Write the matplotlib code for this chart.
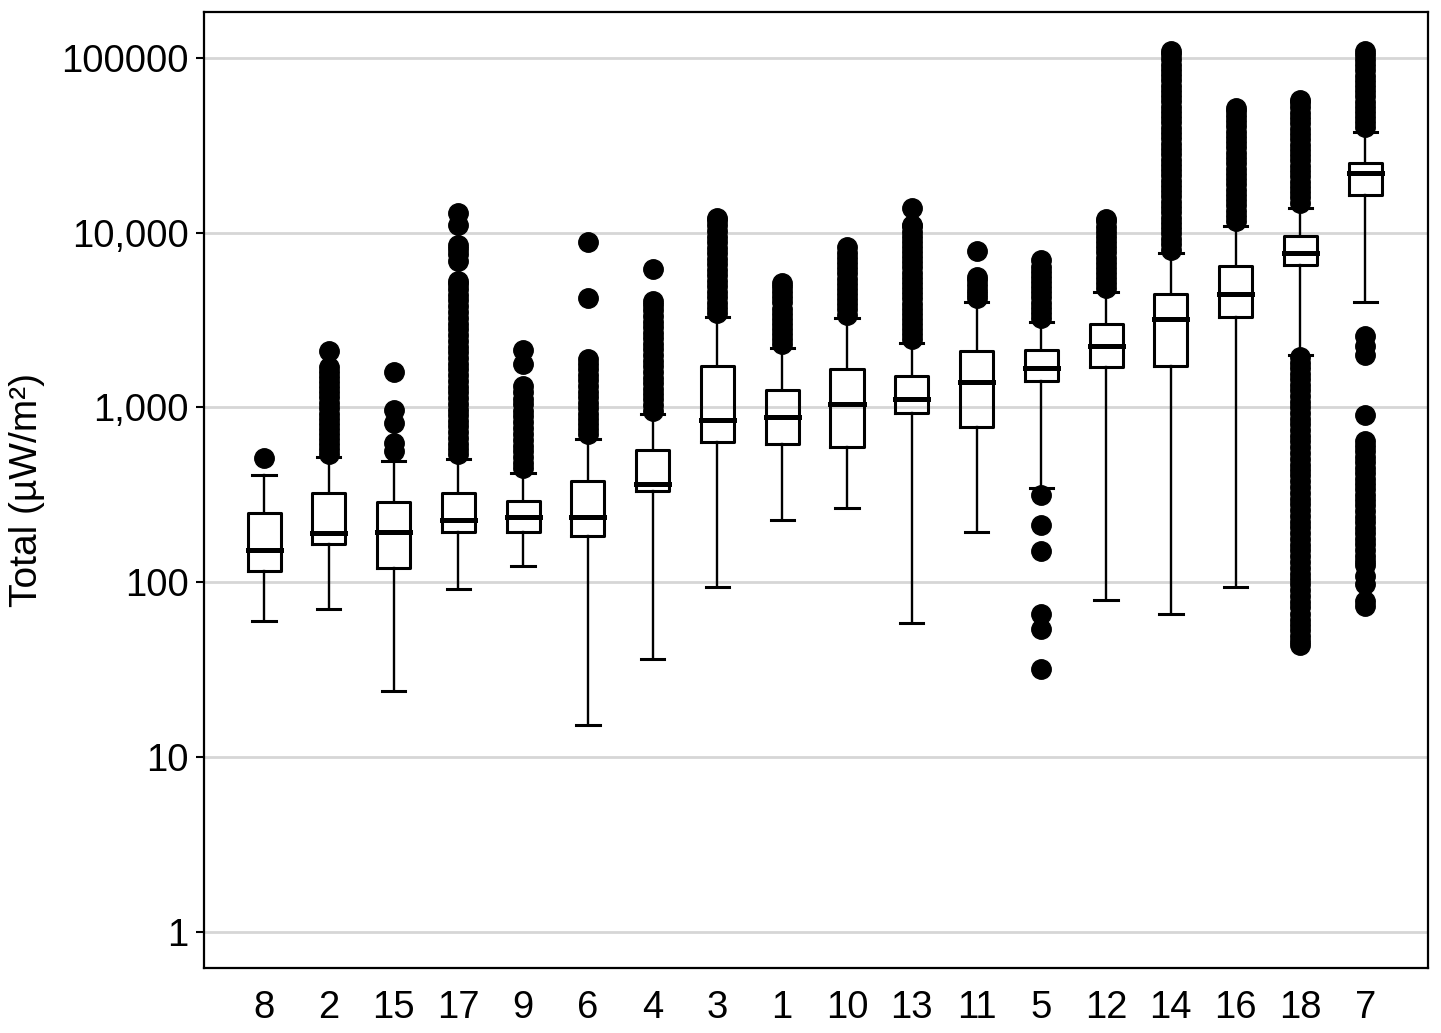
import matplotlib
matplotlib.use('Agg')
import matplotlib.pyplot as plt

# Sites, sorted as in the figure
sites = ["8", "2", "15", "17", "9", "6", "4", "3", "1", "10", "13", "11", "5", "12", "14", "16", "18", "7"]

# Box statistics (uW/m2)
medians = [153, 192, 194, 227, 237, 237, 365, 849, 884, 1049, 1120, 1400, 1686, 2250, 3214, 4467, 7660, 21970]
q1 = [116, 166, 121, 194, 194, 184, 333, 636, 619, 595, 931, 774, 1420, 1707, 1730, 3300, 6540, 16450]
q3 = [250, 324, 288, 324, 292, 380, 572, 1730, 1261, 1662, 1517, 2108, 2136, 3008, 4467, 6460, 9590, 25070]
whisLow = [60, 70, 24, 91, 124, 15.3, 36.5, 94, 227, 267, 58.6, 194, 347, 79.3, 65.9, 94, 2000, 4018]
whisHigh = [411, 521, 495, 508, 423, 661, 919, 3300, 2193, 3256, 2342, 4018, 3090, 4585, 7660, 10940, 13870, 37740]

# Outliers per site (dense columns are many overlapping points)
out8 = [515]
out2 = [540, 580, 620, 660, 700, 750, 800, 860, 920, 990, 1060, 1140, 1220, 1310, 1400, 1500, 1600, 1700, 2100]
out15 = [565, 627, 816, 969, 1600]
out17 = [540, 580, 620, 670, 720, 780, 840, 900, 970, 1050, 1130, 1220, 1310, 1420, 1530, 1650, 1780,
         1920, 2070, 2230, 2400, 2600, 2800, 3000, 3250, 3500, 3800, 4100, 4400, 4750, 5100, 5300,
         6900, 7500, 8100, 8500, 11000, 12900]
out9 = [450, 480, 520, 560, 600, 650, 700, 760, 820, 890, 960, 1040, 1120, 1220, 1330, 1780, 2140]
out6 = [700, 750, 800, 860, 920, 990, 1060, 1140, 1230, 1330, 1430, 1540, 1660, 1780, 1900, 4240, 8860]
out4 = [960, 1030, 1110, 1190, 1280, 1380, 1480, 1600, 1720, 1850, 2000, 2150, 2300, 2480, 2670, 2880,
        3100, 3340, 3600, 3850, 4070, 6210]
out3 = [3450, 3700, 3980, 4280, 4600, 4950, 5320, 5720, 6150, 6600, 7100, 7650, 8200, 8850, 9500,
        10200, 11000, 11800, 12150]
out1 = [2300, 2450, 2620, 2800, 3000, 3200, 3420, 3650, 4000, 4280, 4580, 4900, 5160]
out10 = [3400, 3640, 3900, 4170, 4460, 4780, 5100, 5460, 5850, 6260, 6700, 7170, 7670, 8290]
out13 = [2450, 2620, 2800, 3000, 3200, 3430, 3670, 3930, 4200, 4500, 4820, 5150, 5520, 5900, 6320,
         6760, 7230, 7740, 8280, 8860, 9480, 10150, 10850, 11080, 13870]
out11 = [4250, 4450, 4700, 5000, 5370, 5600, 7870]
out5 = [32, 54, 66, 151, 213, 316, 3250, 3480, 3720, 3980, 4260, 4560, 4880, 5220, 5590, 5980, 6400, 6990]
out12 = [4800, 5130, 5490, 5870, 6280, 6720, 7190, 7700, 8240, 8820, 9440, 10100, 10800, 11600, 12000]
out14 = [8000, 8600, 9200, 9900, 10600, 11400, 12200, 13100, 14000, 15000, 16100, 17300, 18500, 19800,
         21300, 22800, 24500, 26200, 28100, 30100, 32300, 34600, 37100, 39800, 42700, 45700, 49000,
         52500, 56300, 60400, 64700, 69400, 74400, 79700, 85400, 91600, 98200, 105000, 110000]
out16 = [11600, 12400, 13300, 14300, 15300, 16400, 17600, 18900, 20200, 21700, 23200, 24900, 26700,
         28600, 30700, 32900, 35300, 37800, 40500, 43400, 46500, 49800, 51800]
out18 = [43.8, 46, 49, 53, 57, 61, 66, 72, 77, 83, 90, 97, 104, 112, 121, 131, 141, 152, 164, 177,
         191, 206, 222, 240, 260, 280, 300, 325, 350, 380, 410, 440, 470, 510, 550, 590, 640, 690,
         740, 800, 860, 930, 1000, 1080, 1160, 1250, 1350, 1450, 1560, 1680, 1800, 1950,
         14800, 15900, 17000, 18300, 19600, 21000, 22500, 24200, 25900, 27800, 29800, 31900, 34200,
         36700, 39300, 42200, 45200, 48500, 52000, 55700, 57500]
out7 = [73, 78, 98, 108, 126, 132, 142, 153, 165, 177, 190, 205, 220, 237, 255, 275, 295, 315, 340,
        365, 390, 420, 450, 485, 520, 560, 600, 644, 908, 2000, 2250, 2570,
        40000, 42800, 45800, 49000, 52500, 56200, 60200, 64400, 69000, 73900, 79100, 84700, 90700,
        97100, 104000, 110000]
outliers = [out8, out2, out15, out17, out9, out6, out4, out3, out1, out10, out13, out11, out5, out12,
            out14, out16, out18, out7]

yTicks = [1, 10, 100, 1000, 10000, 100000]
yTickLabels = ["1", "10", "100", "1,000", "10,000", "100000"]


def main():
    plt.rcParams['font.family'] = ['Liberation Sans', 'DejaVu Sans']

    stats = []
    for i, name in enumerate(sites):
        stats.append(dict(label=name, med=medians[i], q1=q1[i], q3=q3[i],
                          whislo=whisLow[i], whishi=whisHigh[i], fliers=outliers[i]))

    fig = plt.figure(figsize=(14.41, 10.33), dpi=100)
    ax = fig.add_axes([0.1416, 0.0629, 0.8494, 0.9255])

    ax.bxp(stats, positions=range(1, len(sites) + 1), widths=0.51, capwidths=0.36,
           boxprops=dict(color='black', linewidth=2.2),
           whiskerprops=dict(color='black', linewidth=1.7),
           capprops=dict(color='black', linewidth=2.2),
           medianprops=dict(color='black', linewidth=3.6, solid_capstyle='projecting'),
           flierprops=dict(marker='o', markersize=14, markerfacecolor='black',
                           markeredgecolor='black', linestyle='none'),
           zorder=3)

    ax.set_yscale('log')
    ax.set_ylim(0.62, 183000)
    ax.set_xlim(0.074, 18.97)
    ax.set_yticks(yTicks)
    ax.set_yticklabels(yTickLabels)
    ax.minorticks_off()
    ax.yaxis.grid(True, color='#d6d6d6', linewidth=2.0)
    ax.set_axisbelow(True)

    ax.tick_params(axis='y', direction='out', length=6, width=1.5, pad=5, labelsize=27.5)
    ax.tick_params(axis='x', length=0, pad=16, labelsize=27.5)
    for sp in ax.spines.values():
        sp.set_linewidth(1.6)
        sp.set_color('black')

    ax.set_ylabel("Total (\u00b5W/m\u00b2)", fontsize=28)
    ax.yaxis.set_label_coords(-0.130, 0.5)

    fig.savefig('out.png', dpi=100)


if __name__ == "__main__":
    main()
